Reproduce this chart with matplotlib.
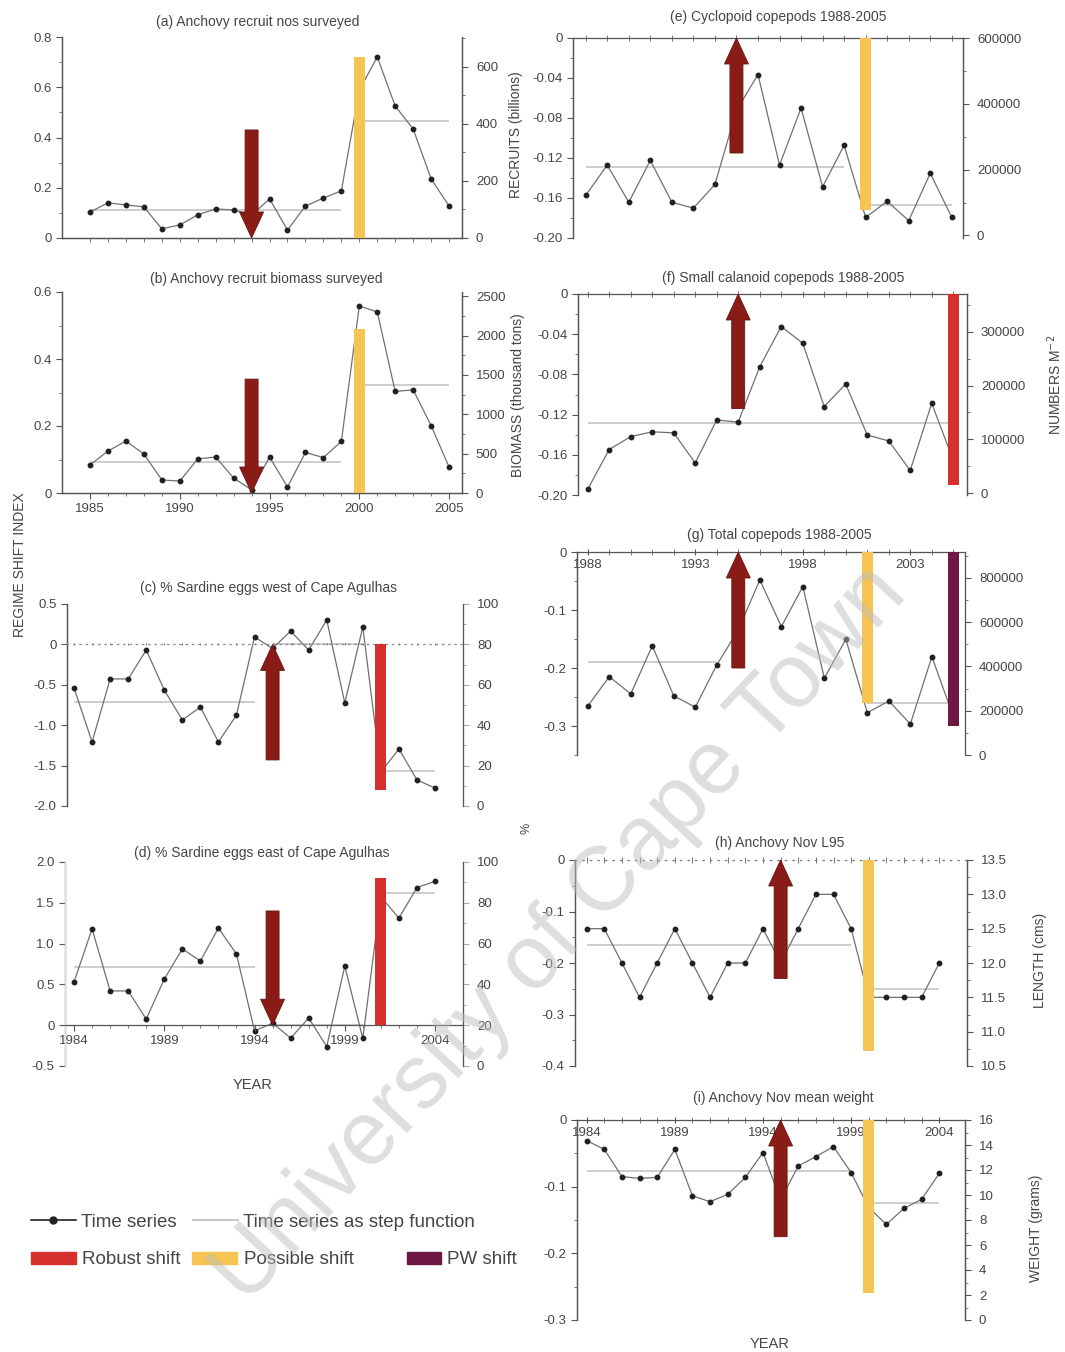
import matplotlib
matplotlib.use('Agg')
import matplotlib.pyplot as plt
from matplotlib.patches import FancyArrow, Patch
from matplotlib.lines import Line2D

plt.rcParams['font.family'] = ['Liberation Sans', 'DejaVu Sans']

# ---------------- data ----------------
years_85 = list(range(1985, 2006))
years_84 = list(range(1984, 2005))
years_88 = list(range(1988, 2006))

recruits_a = [91, 123, 116, 109, 32, 46, 81, 102, 98, 80, 137, 28, 112, 140, 165,
              518, 634, 462, 382, 207, 112]
biomass_b = [356, 533, 660, 495, 165, 152, 432, 457, 190, 40, 457, 76, 515, 450, 655,
             2375, 2300, 1290, 1310, 855, 330]
eggs_west_c = [58.4, 31.7, 62.9, 62.9, 77.2, 57.4, 42.6, 49.0, 31.7, 45.0, 83.7, 78.0,
               86.6, 77.2, 92.1, 51.0, 88.6, 16.8, 28.2, 12.9, 8.9]
eggs_east_d = [41.2, 67.2, 36.8, 36.8, 23.0, 42.6, 57.4, 51.5, 67.6, 54.9, 17.2, 21.0,
               13.7, 23.5, 9.5, 49.0, 13.5, 83.0, 72.5, 87.5, 90.5]
cyclopoid_e = [122000, 214000, 101000, 228000, 101000, 83000, 155000, 380000, 489000,
               214000, 387000, 148000, 274000, 55000, 104000, 45000, 189000, 55000]
calanoid_f = [6900, 81000, 105000, 114000, 112000, 56000, 136000, 132000, 235000, 310000,
              279000, 161000, 203000, 108000, 97000, 42000, 167000, 61000]
copepods_g = [221000, 354000, 276000, 493000, 267000, 216000, 407000, 565000, 791000,
              580000, 761000, 347000, 523000, 191000, 244000, 140000, 444000, 173000]
l95_h = [12.5, 12.5, 12.0, 11.5, 12.0, 12.5, 12.0, 11.5, 12.0, 12.0, 12.5, 12.0, 12.5,
         13.0, 13.0, 12.5, 11.5, 11.5, 11.5, 11.5, 12.0]
weight_i = [14.35, 13.65, 11.47, 11.33, 11.41, 13.65, 9.92, 9.47, 10.05, 11.41, 13.39, 9.6,
            12.32, 13.07, 13.87, 11.79, 8.99, 7.65, 8.93, 9.65, 11.73]

# step functions: (start year, end year, level)
steps_a = [(1985, 1999, 98), (2000, 2005, 410)]
steps_b = [(1985, 1999, 394), (2000, 2005, 1370)]
steps_c = [(1984, 1994, 51.5), (1995, 2000, 80), (2001, 2004, 17.3)]
steps_d = [(1984, 1994, 48.5), (1995, 2000, 20), (2001, 2004, 84.8)]
steps_e = [(1988, 2000, 209000), (2001, 2005, 92000)]
steps_f = [(1988, 2005, 130000)]
steps_g = [(1988, 1994, 421000), (2001, 2005, 235000)]
steps_h = [(1984, 1999, 12.26), (2000, 2004, 11.62)]
steps_i = [(1984, 1999, 11.95), (2000, 2004, 9.39)]

# regime shift index: arrow (year, start RSI) ending at 0; bars (year, RSI, kind)
arrow_a, bars_a = (1994, 0.43), [(2000, 0.72, 'possible')]
arrow_b, bars_b = (1994, 0.34), [(2000, 0.49, 'possible')]
arrow_c, bars_c = (1995, -1.43), [(2001, -1.80, 'robust')]
arrow_d, bars_d = (1995, 1.40), [(2001, 1.80, 'robust')]
arrow_e, bars_e = (1995, -0.115), [(2001, -0.172, 'possible')]
arrow_f, bars_f = (1995, -0.114), [(2005, -0.19, 'robust')]
arrow_g, bars_g = (1995, -0.20), [(2001, -0.26, 'possible'), (2005, -0.30, 'pw')]
arrow_h, bars_h = (1995, -0.23), [(2000, -0.37, 'possible')]
arrow_i, bars_i = (1995, -0.175), [(2000, -0.26, 'possible')]

# ---------------- style ----------------
W, H = 1065, 1352
TXT = '#454545'
SER = '#707070'
DOT = '#202020'
STEP = '#c9c9c9'
ARROW = '#8a1c17'
COLORS = {'robust': '#d6302c', 'possible': '#f6c453', 'pw': '#6e1844'}
FS = 9.5

fig = plt.figure(figsize=(W / 100, H / 100), dpi=100)
fig.patch.set_facecolor('white')


def box(x0, y0, x1, y1):
    return [x0 / W, 1 - y1 / H, (x1 - x0) / W, (y1 - y0) / H]


def fmt(v, nd):
    if abs(v) < 1e-12:
        return '0'
    return f'{v:.{nd}f}'


def panel(px, xlim, yl, yr, years, vals, steps, arrow, bars,
          lticks, lnd, rticks, rnd, lminor=None, rminor=None):
    ax = fig.add_axes(box(*px))
    ax2 = ax.twinx()
    ax.set_zorder(ax2.get_zorder() + 1)
    ax.patch.set_visible(False)
    ax.set_xlim(xlim)
    ax.set_ylim(yl)
    ax2.set_ylim(yr)
    for s, e, lvl in steps:
        ax2.hlines(lvl, s, e, color=STEP, lw=1.3, zorder=2)
    ax2.plot(years, vals, '-', color=SER, lw=0.9, marker='o', ms=3.2,
             mfc=DOT, mec=DOT, zorder=3)
    pxx = (px[2] - px[0]) / (xlim[1] - xlim[0])
    pxy = (px[3] - px[1]) / (yl[1] - yl[0])
    x, y0 = arrow
    ax.add_patch(FancyArrow(x, y0, 0, 0 - y0, width=13 / pxx, head_width=24 / pxx,
                            head_length=26 / pxy, length_includes_head=True,
                            fc=ARROW, ec='#6a1410', lw=0.6, zorder=6))
    for bx, bh, kind in bars:
        ax.bar(bx, bh, width=11 / pxx, color=COLORS[kind], zorder=5)
    ax.set_yticks(lticks)
    ax.set_yticklabels([fmt(v, lnd) for v in lticks])
    ax2.set_yticks(rticks)
    ax2.set_yticklabels([fmt(v, rnd) for v in rticks])
    if lminor is not None:
        ax.set_yticks(lminor, minor=True)
    if rminor is not None:
        ax2.set_yticks(rminor, minor=True)
    for a in (ax, ax2):
        for s in a.spines.values():
            s.set_color('#555555')
            s.set_linewidth(0.9)
        a.tick_params(colors='#555555', labelcolor=TXT, labelsize=FS, width=0.8,
                      length=4)
        a.tick_params(which='minor', length=2.5, width=0.7, colors='#777777')
    ax2.tick_params(axis='y', pad=6)
    ax.set_xticks([])
    ax.set_xticks(years, minor=True)
    return ax, ax2


def frange(a, b, s):
    out = []
    v = a
    while v <= b + s * 1e-6:
        out.append(round(v, 6))
        v += s
    return out


# ---- (a) ----
ax, ax2 = panel((62, 37, 462, 238), (1983.44, 2005.72), (0, 0.8), (0, 704),
                years_85, recruits_a, steps_a, arrow_a, bars_a,
                frange(0, 0.8, 0.2), 1, [0, 200, 400, 600], 0,
                lminor=frange(0, 0.8, 0.1), rminor=frange(0, 700, 100))
ax.spines['top'].set_visible(False)
ax2.spines['top'].set_visible(False)
ax.tick_params(axis='x', which='minor', length=3)

# ---- (b) ----
ax, ax2 = panel((62, 292, 462, 493), (1983.44, 2005.72), (0, 0.6), (0, 2553),
                years_85, biomass_b, steps_b, arrow_b, bars_b,
                frange(0, 0.6, 0.2), 1, frange(0, 2500, 500), 0,
                lminor=frange(0, 0.6, 0.1), rminor=frange(0, 2500, 250))
ax.spines['top'].set_visible(False)
ax2.spines['top'].set_visible(False)
ax.set_xticks([1985, 1990, 1995, 2000, 2005])
ax.set_xticklabels(['1985', '1990', '1995', '2000', '2005'])

# ---- (c) ----
ax, ax2 = panel((67, 604, 463, 806), (1983.61, 2005.55), (-2.0, 0.5), (0, 100),
                years_84, eggs_west_c, steps_c, arrow_c, bars_c,
                frange(-2.0, 0.5, 0.5), 1, frange(0, 100, 20), 0,
                rminor=frange(0, 100, 10))
for a in (ax, ax2):
    a.spines['top'].set_visible(False)
    a.spines['bottom'].set_visible(False)
ax.spines['bottom'].set_visible(True)
ax.spines['bottom'].set_position(('data', 0))
ax.spines['bottom'].set_linestyle((0, (1, 4)))
ax.spines['bottom'].set_color('#888888')
ax.tick_params(axis='x', which='minor', length=2, direction='inout')
ax2.spines['right'].set_color('#d0d0d0')
ax2.spines['right'].set_linestyle((0, (1, 3)))
ax2.tick_params(axis='y', which='both', colors='#aaaaaa', labelcolor=TXT)

# ---- (d) ----
ax, ax2 = panel((65, 862, 463, 1066), (1983.50, 2005.55), (-0.5, 2.0), (0, 100),
                years_84, eggs_east_d, steps_d, arrow_d, bars_d,
                frange(-0.5, 2.0, 0.5), 1, frange(0, 100, 20), 0,
                rminor=frange(0, 100, 10))
for a in (ax, ax2):
    a.spines['top'].set_visible(False)
    a.spines['bottom'].set_visible(False)
ax.spines['bottom'].set_visible(True)
ax.spines['bottom'].set_position(('data', 0))
ax.spines['left'].set_color('#dddddd')
ax2.spines['right'].set_color('#dddddd')
ax2.tick_params(axis='y', which='both', colors='#aaaaaa', labelcolor=TXT)
ax.set_xticks([1984, 1989, 1994, 1999, 2004])
ax.set_xticklabels(['1984', '1989', '1994', '1999', '2004'])
ax.tick_params(axis='x', pad=3)


def top_axis(ax, ax2, dotted=False):
    for a in (ax, ax2):
        a.spines['bottom'].set_visible(False)
    ax2.spines['top'].set_visible(False)
    ax.xaxis.set_ticks_position('top')
    ax.tick_params(axis='x', which='both', top=True, bottom=False, labeltop=True,
                   labelbottom=False, direction='inout')
    ax.tick_params(axis='x', which='minor', length=4)
    if dotted:
        ax.spines['top'].set_linestyle((0, (1, 5)))
        ax.spines['top'].set_color('#777777')


# ---- (e) ----
ax, ax2 = panel((573, 38, 963, 238), (1987.41, 2005.52), (-0.2, 0), (-7700, 600000),
                years_88, cyclopoid_e, steps_e, arrow_e, bars_e,
                frange(-0.2, 0, 0.04), 2, frange(0, 600000, 200000), 0,
                lminor=frange(-0.2, 0, 0.02), rminor=frange(0, 600000, 100000))
top_axis(ax, ax2)

# ---- (f) ----
ax, ax2 = panel((578, 294, 967, 495), (1987.55, 2005.64), (-0.2, 0), (-3700, 370600),
                years_88, calanoid_f, steps_f, arrow_f, bars_f,
                frange(-0.2, 0, 0.04), 2, frange(0, 300000, 100000), 0,
                lminor=frange(-0.2, 0, 0.02), rminor=frange(0, 350000, 50000))
top_axis(ax, ax2)

# ---- (g) ----
ax, ax2 = panel((577, 552, 965, 755), (1987.50, 2005.54), (-0.35, 0), (0, 917000),
                years_88, copepods_g, steps_g, arrow_g, bars_g,
                frange(-0.3, 0, 0.1), 1, frange(0, 800000, 200000), 0,
                lminor=frange(-0.35, 0, 0.05), rminor=frange(0, 900000, 100000))
top_axis(ax, ax2)
ax2.spines['right'].set_color('#dddddd')
ax.set_xticks([1988, 1993, 1998, 2003])
ax.set_xticklabels(['1988', '1993', '1998', '2003'])
ax.tick_params(axis='x', which='major', pad=-16)

# ---- (h) ----
ax, ax2 = panel((575, 860, 967, 1066), (1983.34, 2005.57), (-0.4, 0), (10.5, 13.5),
                years_84, l95_h, steps_h, arrow_h, bars_h,
                frange(-0.4, 0, 0.1), 1, frange(10.5, 13.5, 0.5), 1,
                lminor=frange(-0.4, 0, 0.05), rminor=frange(10.5, 13.5, 0.25))
top_axis(ax, ax2, dotted=True)

# ---- (i) ----
ax, ax2 = panel((577, 1120, 965, 1320), (1983.45, 2005.46), (-0.3, 0), (0, 16),
                years_84, weight_i, steps_i, arrow_i, bars_i,
                frange(-0.3, 0, 0.1), 1, frange(0, 16, 2), 0,
                lminor=frange(-0.3, 0, 0.05), rminor=frange(0, 16, 1))
top_axis(ax, ax2)
ax.set_xticks([1984, 1989, 1994, 1999, 2004])
ax.set_xticklabels(['1984', '1989', '1994', '1999', '2004'])
ax.tick_params(axis='x', which='major', pad=-16)

# ---------------- titles & labels ----------------
def ftext(x, y, s, **kw):
    kw.setdefault('color', TXT)
    kw.setdefault('ha', 'center')
    kw.setdefault('va', 'center')
    fig.text(x / W, 1 - y / H, s, **kw)

ftext(258, 22, '(a) Anchovy recruit nos surveyed', fontsize=10)
ftext(266, 279, '(b) Anchovy recruit biomass surveyed', fontsize=10)
ftext(268, 588, '(c) % Sardine eggs west of Cape Agulhas', fontsize=10)
ftext(262, 853, '(d) % Sardine eggs east of Cape Agulhas', fontsize=10)
ftext(778, 17, '(e) Cyclopoid copepods 1988-2005', fontsize=10)
ftext(783, 278, '(f) Small calanoid copepods 1988-2005', fontsize=10)
ftext(779, 535, '(g) Total copepods 1988-2005', fontsize=10)
ftext(780, 843, '(h) Anchovy Nov L95', fontsize=10)
ftext(783, 1098, '(i) Anchovy Nov mean weight', fontsize=10)

ftext(20, 565, 'REGIME SHIFT INDEX', fontsize=10, rotation=90)
ftext(516, 135, 'RECRUITS (billions)', fontsize=10, rotation=90)
ftext(518, 395, 'BIOMASS (thousand tons)', fontsize=10, rotation=90)
ftext(526, 828, '%', fontsize=9, rotation=90)
ftext(1055, 385, 'NUMBERS M$^{-2}$', fontsize=10, rotation=90)
ftext(1040, 960, 'LENGTH (cms)', fontsize=10, rotation=90)
ftext(1036, 1228, 'WEIGHT (grams)', fontsize=10, rotation=90)
ftext(253, 1085, 'YEAR', fontsize=10.5)
ftext(770, 1344, 'YEAR', fontsize=10.5)

# ---------------- legend ----------------
LFS = 13.5
h1 = [Line2D([], [], color='#222222', lw=1.2, marker='o', ms=5),
      Line2D([], [], color=STEP, lw=1.5)]
fig.legend(h1, ['Time series', 'Time series as step function'],
           loc='center left', bbox_to_anchor=(14 / W, 1 - 1222 / H), ncol=2,
           frameon=False, fontsize=LFS, handlelength=2.4, handletextpad=0.25,
           columnspacing=0.9, labelcolor=TXT)
h2 = [Patch(color=COLORS['robust']), Patch(color=COLORS['possible'])]
fig.legend(h2, ['Robust shift', 'Possible shift'],
           loc='center left', bbox_to_anchor=(14 / W, 1 - 1260 / H), ncol=2,
           frameon=False, fontsize=LFS, handlelength=2.4, handleheight=0.6,
           handletextpad=0.35, columnspacing=0.6, labelcolor=TXT)
fig.legend([Patch(color=COLORS['pw'])], ['PW shift'],
           loc='center left', bbox_to_anchor=(390 / W, 1 - 1260 / H),
           frameon=False, fontsize=LFS, handlelength=1.8, handleheight=0.6,
           handletextpad=0.35, labelcolor=TXT)

# ---------------- watermark ----------------
fig.text(560 / W, 1 - 935 / H, 'University of Cape Town', fontsize=65,
         rotation=47, color='#bdbdbd', alpha=0.5, ha='center', va='center',
         zorder=20)

fig.savefig('out.png', dpi=100, facecolor='white')
